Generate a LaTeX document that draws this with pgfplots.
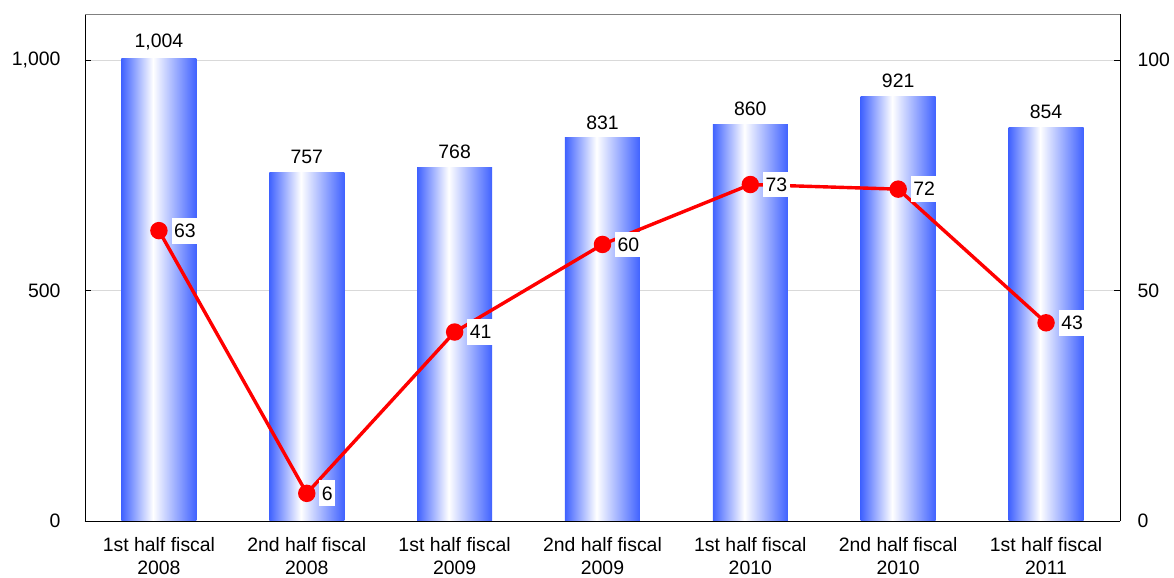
\documentclass[border=0pt]{standalone}
\usepackage{pgfplots}
\pgfplotsset{compat=1.18}
\usepackage{fontspec}
\setmainfont{Liberation Sans}

\definecolor{barblue}{RGB}{64,98,255}
\definecolor{linered}{RGB}{255,0,0}
\definecolor{gridgray}{RGB}{217,217,217}
\definecolor{framegray}{RGB}{128,128,128}

% blue at both edges, white just left of centre
\pgfdeclarehorizontalshading{barshade}{100bp}{%
  color(0bp)=(barblue); color(25bp)=(barblue); color(46bp)=(white);
  color(75bp)=(barblue); color(100bp)=(barblue)}

\newcommand{\chartfont}{\fontsize{19.5}{23}\selectfont}

\pgfplotsset{
  base/.style={
    scale only axis, width=1035bp, height=507bp,
    at={(0,0)}, anchor=south west,
    xmin=-0.5, xmax=6.5,
    tick style={black, thin},
    major tick length=6bp,
    ticklabel style={font=\chartfont},
    /pgf/number format/assume math mode=true,
    /pgf/number format/1000 sep={,},
  },
  salesbar/.style={draw=none, shade, shading=barshade, bar shift=0pt},
}

\begin{document}
\begin{tikzpicture}
% sales bars, left scale
\begin{axis}[
  base,
  ymin=0, ymax=1100,
  ytick={0,500,1000},
  ymajorgrids, grid style={gridgray, thin},
  axis y line*=left,
  axis x line*=bottom,
  axis line style={black, thin},
  xtick={0,...,6},
  major x tick style={draw=none},
  extra x ticks={0.5,1.5,2.5,3.5,4.5,5.5},
  extra x tick labels={},
  extra x tick style={major tick length=6bp, tick style={draw=framegray}},
  xticklabels={{1st half fiscal\\2008},{2nd half fiscal\\2008},{1st half fiscal\\2009},{2nd half fiscal\\2009},{1st half fiscal\\2010},{2nd half fiscal\\2010},{1st half fiscal\\2011}},
  xticklabel style={align=center, yshift=-8bp, inner ysep=2bp},
  yticklabel style={xshift=-21bp},
  ybar, bar width=75bp,
  nodes near coords,
  nodes near coords style={font=\chartfont, /pgf/number format/1000 sep={,}, /pgf/number format/assume math mode=true, yshift=5bp},
]
% one plot per half year, so that each bar carries its own shading
\addplot[salesbar] coordinates {(0,1004)};
\addplot[salesbar] coordinates {(1,757)};
\addplot[salesbar] coordinates {(2,768)};
\addplot[salesbar] coordinates {(3,831)};
\addplot[salesbar] coordinates {(4,860)};
\addplot[salesbar] coordinates {(5,921)};
\addplot[salesbar] coordinates {(6,854)};
\end{axis}
% top frame edge
\begin{axis}[
  base, ymin=0, ymax=110,
  axis x line*=top, axis y line=none,
  axis line style={framegray, thin},
  xtick=\empty,
]
\end{axis}
% ratio line, right scale
\begin{axis}[
  base,
  ymin=0, ymax=110,
  ytick={0,50,100},
  axis y line*=right,
  axis x line=none,
  axis line style={black, thin},
  yticklabel style={xshift=14bp},
  nodes near coords,
  nodes near coords style={font=\chartfont, text=black, anchor=west, fill=white, inner xsep=2.5bp, inner ysep=6bp, xshift=11bp, /pgf/number format/assume math mode=true},
]
\addplot[linered, line width=3.4bp, mark=*, mark size=7bp, mark options={fill=linered, draw=none}] coordinates {
  (0,63) (1,6) (2,41) (3,60) (4,73) (5,72) (6,43)
};
\end{axis}
\pgfresetboundingbox
\path[use as bounding box] (-85bp,-57bp) rectangle (1089bp,521bp);
\end{tikzpicture}
\end{document}
